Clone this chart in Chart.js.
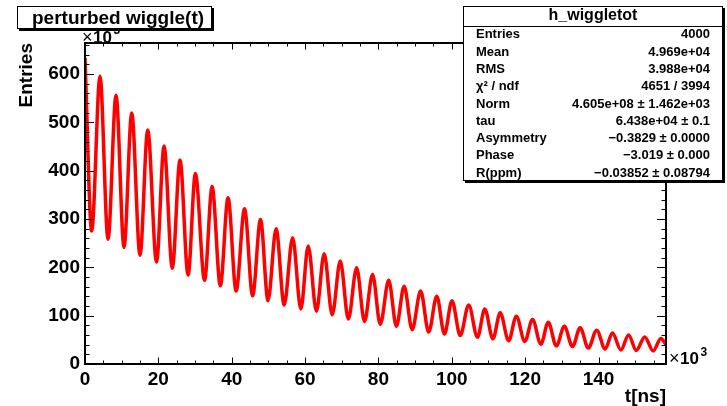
<!DOCTYPE html>
<html>
<head>
<meta charset="utf-8">
<title>perturbed wiggle(t)</title>
<script src="https://cdn.jsdelivr.net/npm/chart.js@4.4.1/dist/chart.umd.min.js"></script>
<style>
  html, body { margin: 0; padding: 0; background: #fff; }
  #wrap { width: 727px; height: 406px; }
</style>
</head>
<body>
<div id="wrap"><canvas id="wiggle" width="727" height="406"></canvas></div>
<script>
// t in 10^3 ns, entries in 10^3 -- peaks and troughs
const timeKns = [
    0, 1.83, 4.09, 6.28, 8.46, 10.64, 12.74, 15.0, 17.1, 19.5,
    21.55, 23.8, 25.9, 28.1, 30.1, 32.6, 34.65, 36.9, 39.0, 41.2,
    43.5, 45.7, 47.85, 49.9, 52.1, 54.3, 56.6, 58.85, 60.85, 63.1,
    65.2, 67.4, 69.6, 71.8, 74.05, 76.2, 78.4, 80.5, 82.8, 84.9,
    87.0, 89.2, 91.5, 93.7, 95.9, 98.0, 100.05, 102.3, 104.6, 107.0,
    109.0, 111.2, 113.2, 115.5, 117.6, 119.9, 122.0, 124.3, 126.3, 128.5,
    130.7, 132.9, 135.0, 137.2, 139.5, 141.8, 143.8, 146.1, 148.2, 150.3,
    152.6, 154.9, 157.0, 158.4
];
const entriesK = [
    633, 275, 595, 258, 556, 241, 519, 225, 484, 211,
    451, 198, 422, 184, 394, 173, 367, 162, 344, 151,
    321, 141, 299, 131, 280, 122, 261, 114, 244, 109,
    228, 102, 213, 93, 199, 88, 185, 82, 173, 78,
    161, 71, 151, 66, 140, 62, 131, 59, 122, 55.5,
    114, 52, 106, 48, 99, 46.6, 92, 41, 86.5, 37.5,
    78, 36, 75, 33, 70, 31, 64, 29, 60, 28,
    56, 27, 53, 40
];
const xTickValues = [0, 20, 40, 60, 80, 100, 120, 140];
const yTickValues = [0, 100, 200, 300, 400, 500, 600];
const xRange = [0, 158.4];
const yRange = [0, 664];

const statsTitle = 'h_wiggletot';
const statsLabels = ['Entries', 'Mean', 'RMS', 'χ² / ndf', 'Norm', 'tau', 'Asymmetry', 'Phase', 'R(ppm)'];
const statsValues = ['4000', '4.969e+04', '3.988e+04', '4651 / 3994', '4.605e+08 ± 1.462e+03',
    '6.438e+04 ± 0.1', '−0.3829 ± 0.0000', '−3.019 ± 0.000', '−0.03852 ± 0.08794'];

const FONT = "'Liberation Sans', Arial, Helvetica, sans-serif";

// box with a ROOT style drop shadow
function shadowBox(ctx, x, y, w, h) {
    ctx.fillStyle = '#000';
    ctx.fillRect(x + 2, y + 2, w, h);
    ctx.fillStyle = '#fff';
    ctx.fillRect(x, y, w, h);
    ctx.lineWidth = 1;
    ctx.strokeStyle = '#000';
    ctx.strokeRect(x + 0.5, y + 0.5, w - 1, h - 1);
}

function timesTen(ctx, x, base) {
    ctx.textAlign = 'left';
    ctx.textBaseline = 'alphabetic';
    ctx.font = '18px ' + FONT;
    ctx.fillText('×', x, base);
    ctx.font = 'bold 17px ' + FONT;
    ctx.fillText('10', x + 11, base);
    ctx.font = 'bold 12px ' + FONT;
    ctx.fillText('3', x + 31.5, base - 8.5);
}

const rootFrame = {
    id: 'rootFrame',
    afterDraw(chart) {
        const ctx = chart.ctx;
        const { left, right, top, bottom } = chart.chartArea;
        const xs = chart.scales.x;
        const ys = chart.scales.y;
        ctx.save();
        ctx.strokeStyle = '#000';
        ctx.fillStyle = '#000';

        // ticks on all four sides, pointing inwards
        ctx.lineWidth = 1;
        ctx.beginPath();
        for (let v = yRange[0]; v <= yRange[1]; v += 20) {
            const y = Math.round(ys.getPixelForValue(v)) + 0.5;
            const len = v % 100 === 0 ? 9 : 4.5;
            ctx.moveTo(left, y); ctx.lineTo(left + len, y);
            ctx.moveTo(right, y); ctx.lineTo(right - len, y);
        }
        for (let v = xRange[0]; v <= xRange[1]; v += 5) {
            const x = Math.round(xs.getPixelForValue(v)) + 0.5;
            const len = v % 20 === 0 ? 6.5 : 3.5;
            ctx.moveTo(x, bottom); ctx.lineTo(x, bottom - len);
            ctx.moveTo(x, top); ctx.lineTo(x, top + len);
        }
        ctx.stroke();

        ctx.lineWidth = 2;
        ctx.strokeRect(left, top, right - left, bottom - top);

        // axis titles and exponents
        ctx.font = 'bold 19px ' + FONT;
        ctx.textBaseline = 'alphabetic';
        ctx.textAlign = 'right';
        ctx.fillText('t[ns]', right, 401.5);
        ctx.save();
        ctx.translate(32, top);
        ctx.rotate(-Math.PI / 2);
        ctx.fillText('Entries', 0, 0);
        ctx.restore();

        timesTen(ctx, right + 3, bottom);
        timesTen(ctx, left - 3, 42.5);

        // title box
        shadowBox(ctx, 17, 6, 195, 23);
        ctx.fillStyle = '#000';
        ctx.font = 'bold 19px ' + FONT;
        ctx.textAlign = 'left';
        ctx.fillText('perturbed wiggle(t)', 32, 23.5);

        // stats box
        const bx = 463, by = 6, bw = 260, bh = 175;
        shadowBox(ctx, bx, by, bw, bh);
        ctx.beginPath();
        ctx.moveTo(bx, 26.5); ctx.lineTo(bx + bw, 26.5);
        ctx.stroke();
        ctx.fillStyle = '#000';
        ctx.font = 'bold 16px ' + FONT;
        ctx.textAlign = 'center';
        ctx.fillText(statsTitle, bx + bw / 2, 20);
        ctx.font = 'bold 13px ' + FONT;
        statsLabels.forEach((lab, i) => {
            const base = 33.6 + i * 17.3 + 4.7;
            ctx.textAlign = 'left';
            ctx.fillText(lab, 476, base);
            ctx.textAlign = 'right';
            ctx.fillText(statsValues[i], 710, base);
        });
        ctx.restore();
    }
};

const points = timeKns.map((t, i) => ({ x: t, y: entriesK[i] }));

new Chart(document.getElementById('wiggle'), {
    type: 'line',
    data: {
        datasets: [{
            label: 'h_wiggletot',
            data: points,
            borderColor: '#ff0000',
            borderWidth: 3.5,
            pointRadius: 0,
            fill: false,
            cubicInterpolationMode: 'monotone'
        }]
    },
    options: {
        responsive: false,
        animation: false,
        layout: { padding: { top: 43, right: 61, left: 0, bottom: 0 } },
        plugins: {
            legend: { display: false },
            tooltip: { enabled: false }
        },
        scales: {
            x: {
                type: 'linear',
                min: xRange[0],
                max: xRange[1],
                afterBuildTicks: s => { s.ticks = xTickValues.map(v => ({ value: v })); },
                afterFit: s => { s.height = 42; },
                grid: { display: false, drawTicks: false },
                border: { display: false },
                ticks: {
                    autoSkip: false,
                    maxRotation: 0,
                    padding: 4,
                    color: '#000',
                    font: { family: FONT, size: 19, weight: 'bold' }
                }
            },
            y: {
                min: yRange[0],
                max: yRange[1],
                afterBuildTicks: s => { s.ticks = yTickValues.map(v => ({ value: v })); },
                afterFit: s => { s.width = 85; },
                grid: { display: false, drawTicks: false },
                border: { display: false },
                ticks: {
                    autoSkip: false,
                    padding: 5,
                    color: '#000',
                    font: { family: FONT, size: 19, weight: 'bold' }
                }
            }
        }
    },
    plugins: [rootFrame]
});
</script>
</body>
</html>
